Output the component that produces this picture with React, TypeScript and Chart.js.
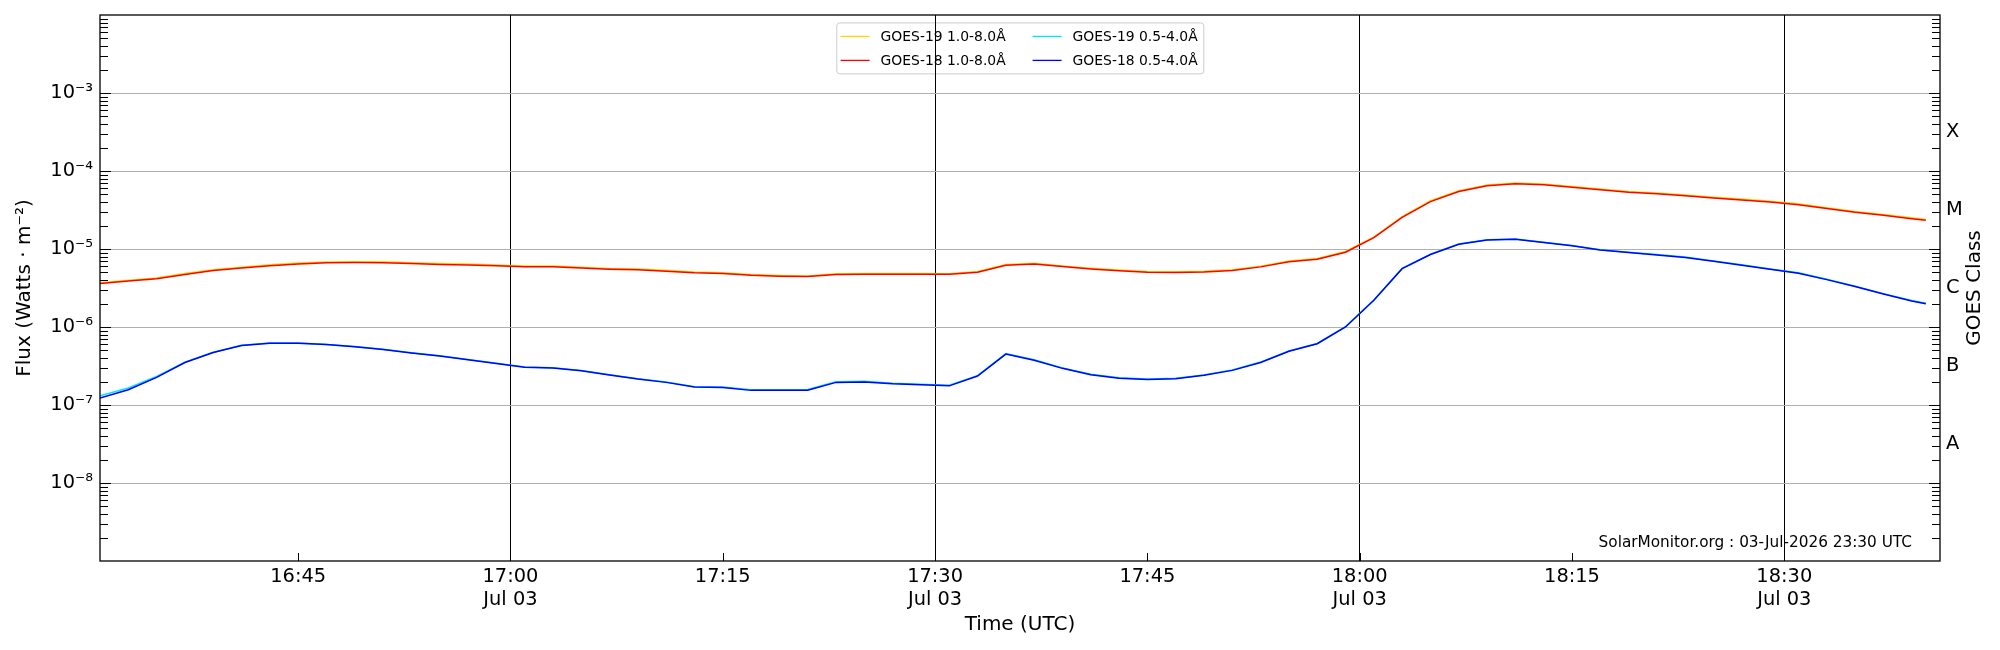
import React, { useEffect, useRef } from 'react';
import { Chart, registerables } from 'chart.js';

Chart.register(...registerables);

// sample times (UTC, 3 Jul)
const sampleTimes = [
  '16:31', '16:33', '16:35', '16:37', '16:39', '16:41', '16:43', '16:45', '16:47', '16:49',
  '16:51', '16:53', '16:55', '16:57', '16:59', '17:01', '17:03', '17:05', '17:07', '17:09',
  '17:11', '17:13', '17:15', '17:17', '17:19', '17:21', '17:23', '17:25', '17:27', '17:29',
  '17:31', '17:33', '17:35', '17:37', '17:39', '17:41', '17:43', '17:45', '17:47', '17:49',
  '17:51', '17:53', '17:55', '17:57', '17:59', '18:01', '18:03', '18:05', '18:07', '18:09',
  '18:11', '18:13', '18:15', '18:17', '18:19', '18:21', '18:23', '18:25', '18:27', '18:29',
  '18:31', '18:33', '18:35', '18:37', '18:39', '18:40',
];

// GOES-19 1.0-8.0 A
const goes19Long = [
  3.7e-6, 3.97e-6, 4.25e-6, 4.84e-6, 5.43e-6, 5.85e-6, 6.26e-6, 6.6e-6, 6.83e-6, 6.88e-6,
  6.85e-6, 6.67e-6, 6.5e-6, 6.4e-6, 6.25e-6, 6.07e-6, 6.04e-6, 5.84e-6, 5.63e-6, 5.53e-6,
  5.33e-6, 5.08e-6, 4.97e-6, 4.7e-6, 4.58e-6, 4.52e-6, 4.8e-6, 4.85e-6, 4.84e-6, 4.84e-6,
  4.83e-6, 5.15e-6, 6.32e-6, 6.55e-6, 6.07e-6, 5.66e-6, 5.37e-6, 5.13e-6, 5.1e-6, 5.17e-6,
  5.43e-6, 6.02e-6, 7.0e-6, 7.55e-6, 9.3e-6, 1.42e-5, 2.6e-5, 4.15e-5, 5.58e-5, 6.6e-5,
  7.0e-5, 6.8e-5, 6.35e-5, 5.9e-5, 5.48e-5, 5.22e-5, 4.92e-5, 4.62e-5, 4.36e-5, 4.1e-5,
  3.8e-5, 3.38e-5, 3.03e-5, 2.77e-5, 2.51e-5, 2.39e-5,
];

// GOES-18 1.0-8.0 A
const goes18Long = [
  3.62e-6, 3.88e-6, 4.15e-6, 4.72e-6, 5.3e-6, 5.7e-6, 6.1e-6, 6.42e-6, 6.65e-6, 6.7e-6,
  6.67e-6, 6.5e-6, 6.35e-6, 6.25e-6, 6.1e-6, 5.92e-6, 5.9e-6, 5.7e-6, 5.5e-6, 5.4e-6,
  5.2e-6, 4.95e-6, 4.85e-6, 4.6e-6, 4.48e-6, 4.43e-6, 4.7e-6, 4.73e-6, 4.73e-6, 4.73e-6,
  4.73e-6, 5.05e-6, 6.2e-6, 6.4e-6, 5.95e-6, 5.55e-6, 5.25e-6, 5.02e-6, 5.0e-6, 5.06e-6,
  5.32e-6, 5.9e-6, 6.88e-6, 7.4e-6, 9.1e-6, 1.4e-5, 2.55e-5, 4.05e-5, 5.45e-5, 6.45e-5,
  6.85e-5, 6.65e-5, 6.2e-5, 5.76e-5, 5.35e-5, 5.1e-5, 4.8e-5, 4.5e-5, 4.25e-5, 4.0e-5,
  3.7e-5, 3.3e-5, 2.95e-5, 2.7e-5, 2.45e-5, 2.33e-5,
];

// GOES-19 0.5-4.0 A
const goes19Short = [
  1.31e-7, 1.65e-7, 2.32e-7, 3.55e-7, 4.75e-7, 5.85e-7, 6.25e-7, 6.22e-7, 5.98e-7, 5.62e-7,
  5.18e-7, 4.68e-7, 4.27e-7, 3.83e-7, 3.42e-7, 3.07e-7, 3.0e-7, 2.77e-7, 2.45e-7, 2.17e-7,
  1.97e-7, 1.72e-7, 1.7e-7, 1.57e-7, 1.57e-7, 1.58e-7, 1.98e-7, 2.02e-7, 1.9e-7, 1.85e-7,
  1.79e-7, 2.38e-7, 4.55e-7, 3.8e-7, 2.98e-7, 2.48e-7, 2.23e-7, 2.15e-7, 2.2e-7, 2.43e-7,
  2.82e-7, 3.55e-7, 4.93e-7, 6.15e-7, 1.01e-6, 2.22e-6, 5.65e-6, 8.6e-6, 1.16e-5, 1.31e-5,
  1.34e-5, 1.22e-5, 1.11e-5, 9.8e-6, 9.1e-6, 8.5e-6, 7.88e-6, 7.02e-6, 6.27e-6, 5.56e-6,
  4.95e-6, 4.1e-6, 3.34e-6, 2.68e-6, 2.18e-6, 2.02e-6,
];

// GOES-18 0.5-4.0 A
const goes18Short = [
  1.23e-7, 1.57e-7, 2.26e-7, 3.5e-7, 4.7e-7, 5.8e-7, 6.2e-7, 6.2e-7, 5.95e-7, 5.6e-7,
  5.15e-7, 4.65e-7, 4.25e-7, 3.8e-7, 3.4e-7, 3.05e-7, 2.98e-7, 2.75e-7, 2.43e-7, 2.15e-7,
  1.95e-7, 1.7e-7, 1.68e-7, 1.54e-7, 1.54e-7, 1.55e-7, 1.95e-7, 1.97e-7, 1.87e-7, 1.82e-7,
  1.76e-7, 2.35e-7, 4.5e-7, 3.75e-7, 2.95e-7, 2.45e-7, 2.2e-7, 2.12e-7, 2.17e-7, 2.4e-7,
  2.78e-7, 3.5e-7, 4.88e-7, 6.1e-7, 1.0e-6, 2.2e-6, 5.6e-6, 8.5e-6, 1.15e-5, 1.3e-5,
  1.33e-5, 1.21e-5, 1.1e-5, 9.7e-6, 9.0e-6, 8.4e-6, 7.8e-6, 6.95e-6, 6.2e-6, 5.5e-6,
  4.9e-6, 4.05e-6, 3.3e-6, 2.65e-6, 2.15e-6, 1.99e-6,
];

const timeTicks = ['16:45', '17:00', '17:15', '17:30', '17:45', '18:00', '18:15', '18:30'];
const timeStart = '16:31';
const timeEnd = '18:41';
const dateLabel = 'Jul 03';
const fluxTicks = [1e-8, 1e-7, 1e-6, 1e-5, 1e-4, 1e-3];
const fluxMin = 1e-9;
const fluxMax = 1e-2;
const classLetters = ['A', 'B', 'C', 'M', 'X'];
const classFlux = [3.162e-8, 3.162e-7, 3.162e-6, 3.162e-5, 3.162e-4];
const stamp = 'SolarMonitor.org : 03-Jul-2026 23:30 UTC';

const FONT = '"DejaVu Sans"';

const toMin = (s: string) => {
  const [h, m] = s.split(':').map(Number);
  return h * 60 + m;
};
const fromMin = (v: number) => {
  const h = Math.floor(v / 60);
  const m = Math.round(v - h * 60);
  return `${String(h).padStart(2, '0')}:${String(m).padStart(2, '0')}`;
};

const SUP: Record<string, string> = {
  '-': '\u207B', '0': '\u2070', '1': '\u00B9', '2': '\u00B2', '3': '\u00B3', '4': '\u2074',
  '5': '\u2075', '6': '\u2076', '7': '\u2077', '8': '\u2078', '9': '\u2079',
};
const powerLabel = (v: number) => {
  const p = String(Math.round(Math.log10(v)));
  return '10' + p.split('').map((c) => SUP[c]).join('');
};

const series = (values: number[]) => values.map((y, i) => ({ x: toMin(sampleTimes[i]), y }));

// legend, frame, inward ticks and annotations in the matplotlib style
const goesDecor = {
  id: 'goesDecor',
  beforeDraw(chart: any) {
    const { ctx, chartArea: a } = chart;
    const cx = (a.left + a.right) / 2;
    const left = cx - 183.7;
    const top = a.top + 7.4;
    ctx.save();
    ctx.fillStyle = 'rgba(255,255,255,0.8)';
    ctx.strokeStyle = '#cccccc';
    ctx.lineWidth = 1;
    ctx.beginPath();
    ctx.roundRect(left + 0.5, top + 0.5, 367, 51, 3);
    ctx.fill();
    ctx.stroke();
    ctx.font = `13.9px ${FONT}`;
    ctx.textBaseline = 'middle';
    ctx.textAlign = 'left';
    chart.data.datasets.forEach((ds: any, i: number) => {
      const col = Math.floor(i / 2);
      const row = i % 2;
      const x0 = left + 4.3 + col * 192;
      const y0 = top + 14 + row * 24;
      ctx.strokeStyle = ds.borderColor;
      ctx.lineWidth = 1.3;
      ctx.beginPath();
      ctx.moveTo(x0, y0);
      ctx.lineTo(x0 + 29, y0);
      ctx.stroke();
      ctx.fillStyle = '#000';
      ctx.fillText(ds.label, x0 + 40, y0 + 0.5);
    });
    ctx.restore();
  },
  afterDraw(chart: any) {
    const { ctx, chartArea: a, scales } = chart;
    const y = scales.y;
    const x = scales.x;
    ctx.save();
    ctx.strokeStyle = '#000';
    ctx.lineWidth = 1;
    ctx.beginPath();
    for (let d = -9; d <= -3; d++) {
      for (let k = 1; k <= 9; k++) {
        const v = k * Math.pow(10, d);
        const py = Math.round(y.getPixelForValue(v)) + 0.5;
        if (py < a.top || py > a.bottom) continue;
        const len = k === 1 ? 11 : 8;
        ctx.moveTo(a.left, py);
        ctx.lineTo(a.left + len, py);
        ctx.moveTo(a.right, py);
        ctx.lineTo(a.right - len, py);
      }
    }
    x.ticks.forEach((t: any) => {
      const px = Math.round(x.getPixelForValue(t.value)) + 0.5;
      ctx.moveTo(px, a.bottom);
      ctx.lineTo(px, a.bottom - 8);
    });
    ctx.stroke();

    ctx.lineWidth = 1.3;
    ctx.strokeRect(a.left, a.top, a.right - a.left, a.bottom - a.top);

    ctx.fillStyle = '#000';
    ctx.font = `15.3px ${FONT}`;
    ctx.textAlign = 'right';
    ctx.textBaseline = 'middle';
    ctx.fillText(stamp, a.right - 28, a.bottom - 17.5);

    ctx.translate(chart.width - 25, (a.top + a.bottom) / 2);
    ctx.rotate(-Math.PI / 2);
    ctx.font = `20px ${FONT}`;
    ctx.textAlign = 'center';
    ctx.fillText('GOES Class', 0, 0);
    ctx.restore();
  },
};

// keep the plot box fixed: no extra room for the end tick labels
const noEdgePadding = (axis: any) => {
  axis.paddingTop = 0;
  axis.paddingBottom = 0;
};

const GoesXrayChart: React.FC = () => {
  const chartRef = useRef<HTMLCanvasElement>(null);
  const chartInstance = useRef<Chart | null>(null);

  useEffect(() => {
    document.body.style.margin = '0';
    document.body.style.overflow = 'hidden';
    if (!chartRef.current) return;
    if (chartInstance.current) chartInstance.current.destroy();
    const ctx = chartRef.current.getContext('2d');
    if (!ctx) return;

    Chart.defaults.font.family = FONT;
    Chart.defaults.color = '#000';

    const line = (label: string, color: string, values: number[], order: number) => ({
      label,
      data: series(values),
      borderColor: color,
      backgroundColor: color,
      borderWidth: 1.5,
      pointRadius: 0,
      tension: 0,
      fill: false,
      order,
      xAxisID: 'x',
      yAxisID: 'y',
    });

    chartInstance.current = new Chart(ctx, {
      type: 'line',
      data: {
        datasets: [
          line('GOES-19 1.0-8.0\u00C5', '#ffd700', goes19Long, 3),
          line('GOES-18 1.0-8.0\u00C5', '#ff0000', goes18Long, 1),
          line('GOES-19 0.5-4.0\u00C5', '#00e5ff', goes19Short, 2),
          line('GOES-18 0.5-4.0\u00C5', '#0000ff', goes18Short, 0),
        ],
      },
      options: {
        responsive: false,
        animation: false,
        devicePixelRatio: 1,
        layout: { padding: { top: 15, left: 0, right: 0, bottom: 0 } },
        plugins: {
          legend: { display: false },
          tooltip: { enabled: false },
        },
        scales: {
          x: {
            type: 'linear',
            position: 'bottom',
            min: toMin(timeStart),
            max: toMin(timeEnd),
            afterBuildTicks: (axis: any) => {
              axis.ticks = timeTicks.map((s) => ({ value: toMin(s) }));
            },
            afterFit: (axis: any) => {
              axis.height = 89;
              axis.paddingLeft = 0;
              axis.paddingRight = 0;
            },
            grid: {
              drawTicks: false,
              lineWidth: 1,
              color: (c: any) => (c.tick && c.tick.value % 30 === 0 ? '#000000' : 'rgba(0,0,0,0)'),
            },
            border: { display: false },
            ticks: {
              autoSkip: false,
              maxRotation: 0,
              padding: 4.5,
              font: { size: 19.4, family: FONT },
              color: '#000',
              callback: (v: any) => {
                const label = fromMin(Number(v));
                return Number(v) % 30 === 0 ? [label, dateLabel] : label;
              },
            },
            title: {
              display: true,
              text: 'Time (UTC)',
              font: { size: 20, family: FONT },
              color: '#000',
              padding: { top: 0, bottom: 13 },
            },
          },
          y: {
            type: 'logarithmic',
            position: 'left',
            min: fluxMin,
            max: fluxMax,
            afterBuildTicks: (axis: any) => {
              axis.ticks = fluxTicks.map((v) => ({ value: v }));
            },
            afterFit: (axis: any) => {
              axis.width = 100;
              noEdgePadding(axis);
            },
            grid: { drawTicks: false, color: '#b0b0b0', lineWidth: 1 },
            border: { display: false },
            ticks: {
              autoSkip: false,
              padding: 7,
              font: { size: 19.4, family: FONT },
              color: '#000',
              callback: (v: any) => powerLabel(Number(v)),
            },
            title: {
              display: true,
              text: 'Flux (Watts \u00B7 m\u207B\u00B2)',
              font: { size: 20, family: FONT },
              color: '#000',
              padding: { top: 13, bottom: 0 },
            },
          },
          y2: {
            type: 'logarithmic',
            position: 'right',
            min: fluxMin,
            max: fluxMax,
            afterBuildTicks: (axis: any) => {
              axis.ticks = classFlux.map((v) => ({ value: v }));
            },
            afterFit: (axis: any) => {
              axis.width = 60;
              noEdgePadding(axis);
            },
            grid: { display: false, drawTicks: false },
            border: { display: false },
            ticks: {
              autoSkip: false,
              padding: 6,
              font: { size: 19.4, family: FONT },
              color: '#000',
              callback: (_v: any, i: number) => classLetters[i],
            },
          },
        },
      },
      plugins: [goesDecor],
    } as any);

    return () => {
      if (chartInstance.current) {
        chartInstance.current.destroy();
        chartInstance.current = null;
      }
    };
  }, []);

  return (
    <div style={{ width: 2000, height: 650, background: '#fff' }}>
      <canvas ref={chartRef} width={2000} height={650} style={{ display: 'block' }}></canvas>
    </div>
  );
};

export default function App() {
  return <GoesXrayChart />;
}
